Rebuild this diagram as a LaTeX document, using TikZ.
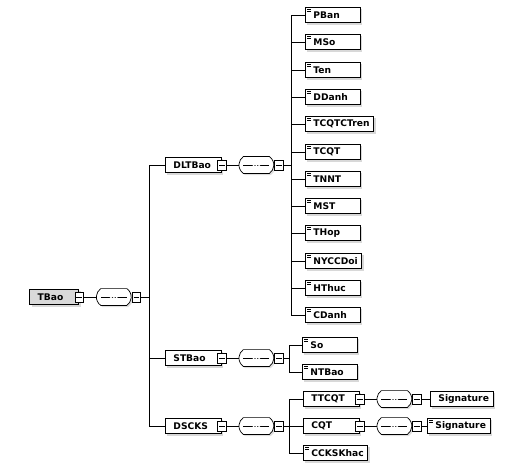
\documentclass[tikz,border=0pt]{standalone}
\usepackage{fontspec}
\setmainfont{DejaVu Sans}
\usetikzlibrary{positioning,shapes.misc,shadows}

% text of a box: indent, at least #1 wide, left aligned
\newlength\ntw
\newcommand\ntxt[2]{\settowidth\ntw{#2}\ifdim\ntw<#1\ntw=#1\fi\hspace*{0.2cm}\makebox[\ntw][l]{#2}\hspace*{0.1cm}}

\begin{document}
\begin{tikzpicture}[x=0.025cm, y=-0.025cm, line width=0.6pt,
    font=\bfseries\fontsize{6.5}{7.5}\selectfont]
    % Styles
    \tikzset{
        elem/.style={rectangle, draw, fill=white, inner sep=0, minimum height=0.38cm, anchor=west,
            drop shadow={shadow xshift=0.05cm, shadow yshift=-0.05cm, fill=gray!60}},
        root/.style={elem, fill=gray!30, line width=0.9pt},
        leaf/.style={elem, path picture={
            \draw[line width=0.5pt] ([xshift=0.04cm,yshift=-0.05cm]path picture bounding box.north west) -- ++(0.1cm,0)
                ([xshift=0.04cm,yshift=-0.09cm]path picture bounding box.north west) -- ++(0.1cm,0);}},
        minusbox/.style={rectangle, draw, fill=white, inner sep=0, minimum width=0.22cm,
            minimum height=0.25cm, line width=0.5pt, path picture={
            \draw ([xshift=0.04cm]path picture bounding box.west) -- ([xshift=-0.04cm]path picture bounding box.east);}},
        seq/.style={rounded rectangle, rounded rectangle arc length=110,
            draw, fill=white, inner sep=0, minimum width=0.87cm, minimum height=0.42cm, line width=0.5pt,
            drop shadow={shadow xshift=0.04cm, shadow yshift=-0.04cm, fill=gray!50},
            path picture={
            \draw ([xshift=0.12cm]path picture bounding box.west) -- ([xshift=-0.12cm]path picture bounding box.east);
            \foreach \dx in {-0.07,0,0.07} \fill ([xshift=\dx cm]path picture bounding box.center) circle (0.032cm);}}
    }
    \useasboundingbox (0,0) rectangle (505,466);

    % === ROOT ===
    \node [root] (tbao) at (29,297) {\ntxt{0.925cm}{TBao}};
    \node [minusbox] (tbaom) at (tbao.east) {};
    \node [seq, right=0.3cm of tbaom] (tbaoseq) {};
    \node [minusbox, anchor=west] (tbaoseqm) at (tbaoseq.east) {};
    \coordinate (tbaobr) at (149,297);

    % === LEVEL 1 ===
    % DLTBao
    \node [elem] (dltbao) at (165,165) {\ntxt{1.1cm}{DLTBao}};
    \node [minusbox] (dltbaom) at (dltbao.east) {};
    \node [seq, right=0.3cm of dltbaom] (dltbaoseq) {};
    \node [minusbox, anchor=west] (dltbaoseqm) at (dltbaoseq.east) {};
    \coordinate (dltbaobr) at (291,165);

    % STBao
    \node [elem] (stbao) at (165,358) {\ntxt{1.1cm}{STBao}};
    \node [minusbox] (stbaom) at (stbao.east) {};
    \node [seq, right=0.3cm of stbaom] (stbaoseq) {};
    \node [minusbox, anchor=west] (stbaoseqm) at (stbaoseq.east) {};
    \coordinate (stbaobr) at (289,358);

    % DSCKS
    \node [elem] (dscks) at (165,426) {\ntxt{1.1cm}{DSCKS}};
    \node [minusbox] (dscksm) at (dscks.east) {};
    \node [seq, right=0.3cm of dscksm] (dscksseq) {};
    \node [minusbox, anchor=west] (dscksseqm) at (dscksseq.east) {};
    \coordinate (dscksbr) at (289,426);

    % === LEVEL 2: DLTBao ===
    \node [leaf] (pban) at (305,15) {\ntxt{1.075cm}{PBan}};
    \node [leaf] (mso) at (305,42) {\ntxt{1.075cm}{MSo}};
    \node [leaf] (ten) at (305,70) {\ntxt{1.075cm}{Ten}};
    \node [leaf] (ddanh) at (305,97) {\ntxt{1.075cm}{DDanh}};
    \node [leaf] (tcqtctren) at (305,124) {\ntxt{1.075cm}{TCQTCTren}};
    \node [leaf] (tcqt) at (305,152) {\ntxt{1.075cm}{TCQT}};
    \node [leaf] (tnnt) at (305,179) {\ntxt{1.075cm}{TNNT}};
    \node [leaf] (mst) at (305,206) {\ntxt{1.075cm}{MST}};
    \node [leaf] (thop) at (305,233) {\ntxt{1.075cm}{THop}};
    \node [leaf] (nyccdoi) at (305,261) {\ntxt{1.075cm}{NYCCDoi}};
    \node [leaf] (hthuc) at (305,288) {\ntxt{1.075cm}{HThuc}};
    \node [leaf] (cdanh) at (305,315) {\ntxt{1.075cm}{CDanh}};

    % === LEVEL 2: STBao ===
    \node [leaf] (so) at (302,345) {\ntxt{1.075cm}{So}};
    \node [leaf] (ntbao) at (302,372) {\ntxt{1.075cm}{NTBao}};

    % === LEVEL 2: DSCKS ===
    \node [elem] (ttcqt) at (303,399) {\ntxt{1.1cm}{TTCQT}};
    \node [minusbox] (ttcqtm) at (ttcqt.east) {};
    \node [seq, right=0.3cm of ttcqtm] (ttcqtseq) {};
    \node [minusbox, anchor=west] (ttcqtseqm) at (ttcqtseq.east) {};
    \node [elem] (sigone) at (430,399) {\ntxt{1.075cm}{Signature}};

    \node [elem] (cqt) at (303,426) {\ntxt{1.1cm}{CQT}};
    \node [minusbox] (cqtm) at (cqt.east) {};
    \node [seq, right=0.3cm of cqtm] (cqtseq) {};
    \node [minusbox, anchor=west] (cqtseqm) at (cqtseq.east) {};
    \node [leaf] (sigtwo) at (427,426) {\ntxt{1.075cm}{Signature}};

    \node [leaf] (ccks) at (303,453) {\ntxt{1.075cm}{CCKSKhac}};

    % === CONNECTORS ===
    \draw (tbaom) -- (tbaoseq);
    \draw (tbaoseqm) -- (tbaobr);
    \draw (tbaobr) |- (dltbao);
    \draw (tbaobr) |- (stbao);
    \draw (tbaobr) |- (dscks);

    \draw (dltbaom) -- (dltbaoseq);
    \draw (dltbaoseqm) -- (dltbaobr);
    \draw (dltbaobr) |- (pban);
    \draw (dltbaobr) |- (mso);
    \draw (dltbaobr) |- (ten);
    \draw (dltbaobr) |- (ddanh);
    \draw (dltbaobr) |- (tcqtctren);
    \draw (dltbaobr) |- (tcqt);
    \draw (dltbaobr) |- (tnnt);
    \draw (dltbaobr) |- (mst);
    \draw (dltbaobr) |- (thop);
    \draw (dltbaobr) |- (nyccdoi);
    \draw (dltbaobr) |- (hthuc);
    \draw (dltbaobr) |- (cdanh);

    \draw (stbaom) -- (stbaoseq);
    \draw (stbaoseqm) -- (stbaobr);
    \draw (stbaobr) |- (so);
    \draw (stbaobr) |- (ntbao);

    \draw (dscksm) -- (dscksseq);
    \draw (dscksseqm) -- (dscksbr);
    \draw (dscksbr) |- (ttcqt);
    \draw (dscksbr) |- (cqt);
    \draw (dscksbr) |- (ccks);

    \draw (ttcqtm) -- (ttcqtseq);
    \draw (ttcqtseqm) -- (sigone);
    \draw (cqtm) -- (cqtseq);
    \draw (cqtseqm) -- (sigtwo);
\end{tikzpicture}
\end{document}
